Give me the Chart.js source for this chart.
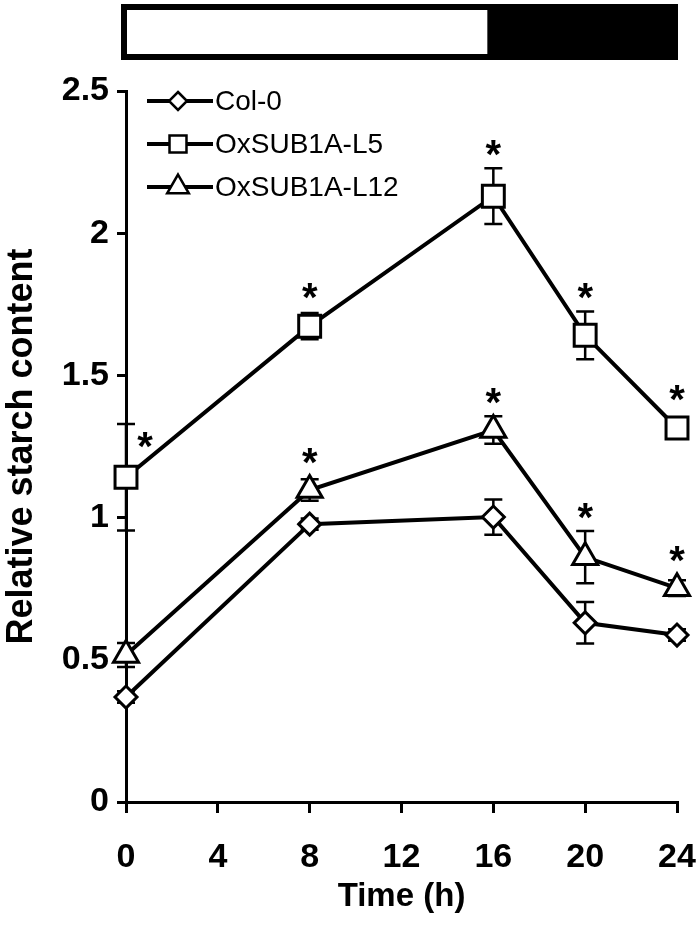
<!DOCTYPE html>
<html>
<head>
<meta charset="utf-8">
<script src="https://cdn.jsdelivr.net/npm/chart.js@4.4.1/dist/chart.umd.min.js"></script>
<style>
html, body { margin: 0; padding: 0; background: #fff; }
#wrap { width: 698px; height: 927px; }
</style>
</head>
<body>
<div id="wrap"><canvas id="myChart" width="698" height="927"></canvas></div>
<script>
// sampling times (h)
let times = [0, 8, 16, 20, 24];
let xTicks = [0, 4, 8, 12, 16, 20, 24];
let yTicks = [0, 0.5, 1, 1.5, 2, 2.5];
// light / dark period (h)
let lightPeriod = [0, 16];
let darkPeriod = [16, 24];
// relative starch content
let col0 = [0.369, 0.977, 1.002, 0.63, 0.587];
let oxL5 = [1.142, 1.673, 2.13, 1.641, 1.315];
let oxL12 = [0.517, 1.097, 1.308, 0.861, 0.752];
// error bars (+/-)
let col0Err = [0.02, 0.02, 0.062, 0.073, 0.02];
let oxL5Err = [0.187, 0.046, 0.098, 0.084, 0.02];
let oxL12Err = [0.042, 0.038, 0.048, 0.092, 0.028];
// significance (*)
let col0Sig = [false, false, false, false, false];
let oxL5Sig = [true, true, true, true, true];
let oxL12Sig = [false, true, true, true, true];

let fam = '"Liberation Sans", Arial, sans-serif';
Chart.defaults.font.family = fam;
Chart.defaults.color = '#000';

function pts(vals) {
    return times.map(function (t, i) { return {x: t, y: vals[i]}; });
}

function marker(ctx, style, x, y, r) {
    ctx.beginPath();
    if (style === 'rect') {
        let s = r * Math.SQRT1_2;
        ctx.rect(x - s, y - s, 2 * s, 2 * s);
    } else if (style === 'rectRot') {
        ctx.moveTo(x, y - r); ctx.lineTo(x + r, y); ctx.lineTo(x, y + r); ctx.lineTo(x - r, y);
        ctx.closePath();
    } else {
        let w = r * Math.sin(Math.PI / 3);
        ctx.moveTo(x, y - r); ctx.lineTo(x + w, y + r / 2); ctx.lineTo(x - w, y + r / 2);
        ctx.closePath();
    }
    ctx.fillStyle = '#fff';
    ctx.fill();
    ctx.stroke();
}

// light/dark bar above the plot
let dayBar = {
    id: 'dayBar',
    afterDraw(chart) {
        let ctx = chart.ctx, xs = chart.scales.x;
        let l = xs.getPixelForValue(lightPeriod[0]);
        let m = xs.getPixelForValue(darkPeriod[0]);
        let r = xs.getPixelForValue(darkPeriod[1]);
        ctx.save();
        ctx.fillStyle = '#000';
        ctx.fillRect(l - 5, 4, r - l + 6, 56);
        ctx.fillStyle = '#fff';
        ctx.fillRect(l + 1, 10, m - l - 7, 44);
        ctx.restore();
    }
};

// vertical error bars with caps
let errBars = {
    id: 'errBars',
    beforeDatasetsDraw(chart) {
        let ctx = chart.ctx, xs = chart.scales.x, ys = chart.scales.y;
        ctx.save();
        ctx.strokeStyle = '#000';
        ctx.lineWidth = 2.5;
        chart.data.datasets.forEach(function (ds) {
            ds.data.forEach(function (p, i) {
                let x = xs.getPixelForValue(p.x);
                let y1 = ys.getPixelForValue(p.y + ds.err[i]);
                let y2 = ys.getPixelForValue(p.y - ds.err[i]);
                ctx.beginPath();
                ctx.moveTo(x, y1); ctx.lineTo(x, y2);
                ctx.moveTo(x - 9, y1); ctx.lineTo(x + 9, y1);
                ctx.moveTo(x - 9, y2); ctx.lineTo(x + 9, y2);
                ctx.stroke();
            });
        });
        ctx.restore();
    }
};

// asterisks for significant points
let stars = {
    id: 'stars',
    afterDatasetsDraw(chart) {
        let ctx = chart.ctx, xs = chart.scales.x, ys = chart.scales.y;
        ctx.save();
        ctx.font = 'bold 40px ' + fam;
        ctx.fillStyle = '#000';
        ctx.textAlign = 'center';
        ctx.textBaseline = 'alphabetic';
        let m = ctx.measureText('*');
        let mid = (m.actualBoundingBoxAscent - m.actualBoundingBoxDescent) / 2;
        chart.data.datasets.forEach(function (ds) {
            ds.data.forEach(function (p, i) {
                if (!ds.sig[i]) return;
                let x = xs.getPixelForValue(p.x);
                let yc = ys.getPixelForValue(p.y);
                let y;
                if (i === 0) {
                    x += 19;
                    y = yc - 37;
                } else {
                    let top = Math.min(ys.getPixelForValue(p.y + ds.err[i]), yc - ds.pointRadius);
                    y = top - 20;
                }
                ctx.fillText('*', x, y + mid);
            });
        });
        ctx.restore();
    }
};

// legend: line through marker, text on the right
let lineLegend = {
    id: 'lineLegend',
    afterDraw(chart) {
        let ctx = chart.ctx, a = chart.chartArea;
        let sizes = [9, 12, 12.5];
        ctx.save();
        ctx.strokeStyle = '#000';
        ctx.font = '28px ' + fam;
        ctx.fillStyle = '#000';
        ctx.textBaseline = 'middle';
        chart.data.datasets.forEach(function (ds, i) {
            let y = a.top + 10 + i * 43;
            ctx.lineWidth = 4;
            ctx.beginPath();
            ctx.moveTo(a.left + 21, y); ctx.lineTo(a.left + 87, y);
            ctx.stroke();
            ctx.lineWidth = 2.5;
            marker(ctx, ds.pointStyle, a.left + 52, y, sizes[i]);
            ctx.fillStyle = '#000';
            ctx.fillText(ds.label, a.left + 89, y + 1);
        });
        ctx.restore();
    }
};

function series(label, vals, err, sig, style, radius) {
    return {
        label: label,
        data: pts(vals),
        err: err,
        sig: sig,
        borderColor: '#000',
        borderWidth: 4,
        pointStyle: style,
        pointRadius: radius,
        pointHoverRadius: radius,
        pointBackgroundColor: '#fff',
        pointBorderColor: '#000',
        pointBorderWidth: 3,
        tension: 0,
        clip: false
    };
}

let ctx = document.getElementById('myChart').getContext('2d');
let chart = new Chart(ctx, {
    type: 'line',
    data: {
        datasets: [
            series('Col-0', col0, col0Err, col0Sig, 'rectRot', 11),
            series('OxSUB1A-L5', oxL5, oxL5Err, oxL5Sig, 'rect', 15.5),
            series('OxSUB1A-L12', oxL12, oxL12Err, oxL12Sig, 'triangle', 14.5)
        ]
    },
    options: {
        responsive: false,
        animation: false,
        devicePixelRatio: 1,
        layout: {padding: {top: 91, right: 21, bottom: 0, left: 0}},
        plugins: {legend: {display: false}, tooltip: {enabled: false}},
        scales: {
            x: {
                type: 'linear',
                min: 0,
                max: 24,
                afterBuildTicks: function (s) { s.ticks = xTicks.map(function (v) { return {value: v}; }); },
                afterFit: function (s) { s.height = 125; s.paddingLeft = 0; s.paddingRight = 0; },
                ticks: {font: {size: 34, weight: 'bold'}, color: '#000', padding: 24, maxRotation: 0,
                    callback: function (v) { return String(v); }},
                grid: {drawOnChartArea: false, color: '#000', lineWidth: 3, tickLength: 11},
                border: {color: '#000', width: 3},
                title: {display: true, text: 'Time (h)', color: '#000', font: {size: 33, weight: 'bold'}, padding: {top: 0, bottom: 10}}
            },
            y: {
                min: 0,
                max: 2.5,
                afterBuildTicks: function (s) { s.ticks = yTicks.map(function (v) { return {value: v}; }); },
                afterFit: function (s) { s.width = 126; s.paddingTop = 0; s.paddingBottom = 0; },
                ticks: {font: {size: 34, weight: 'bold'}, color: '#000', padding: 8,
                    callback: function (v) { return String(v); }},
                grid: {drawOnChartArea: false, color: '#000', lineWidth: 3, tickLength: 9},
                border: {color: '#000', width: 3},
                title: {display: true, text: 'Relative starch content', color: '#000', font: {size: 36, weight: 'bold'}, padding: {top: 0, bottom: 0}}
            }
        }
    },
    plugins: [dayBar, errBars, stars, lineLegend]
});
</script>
</body>
</html>
